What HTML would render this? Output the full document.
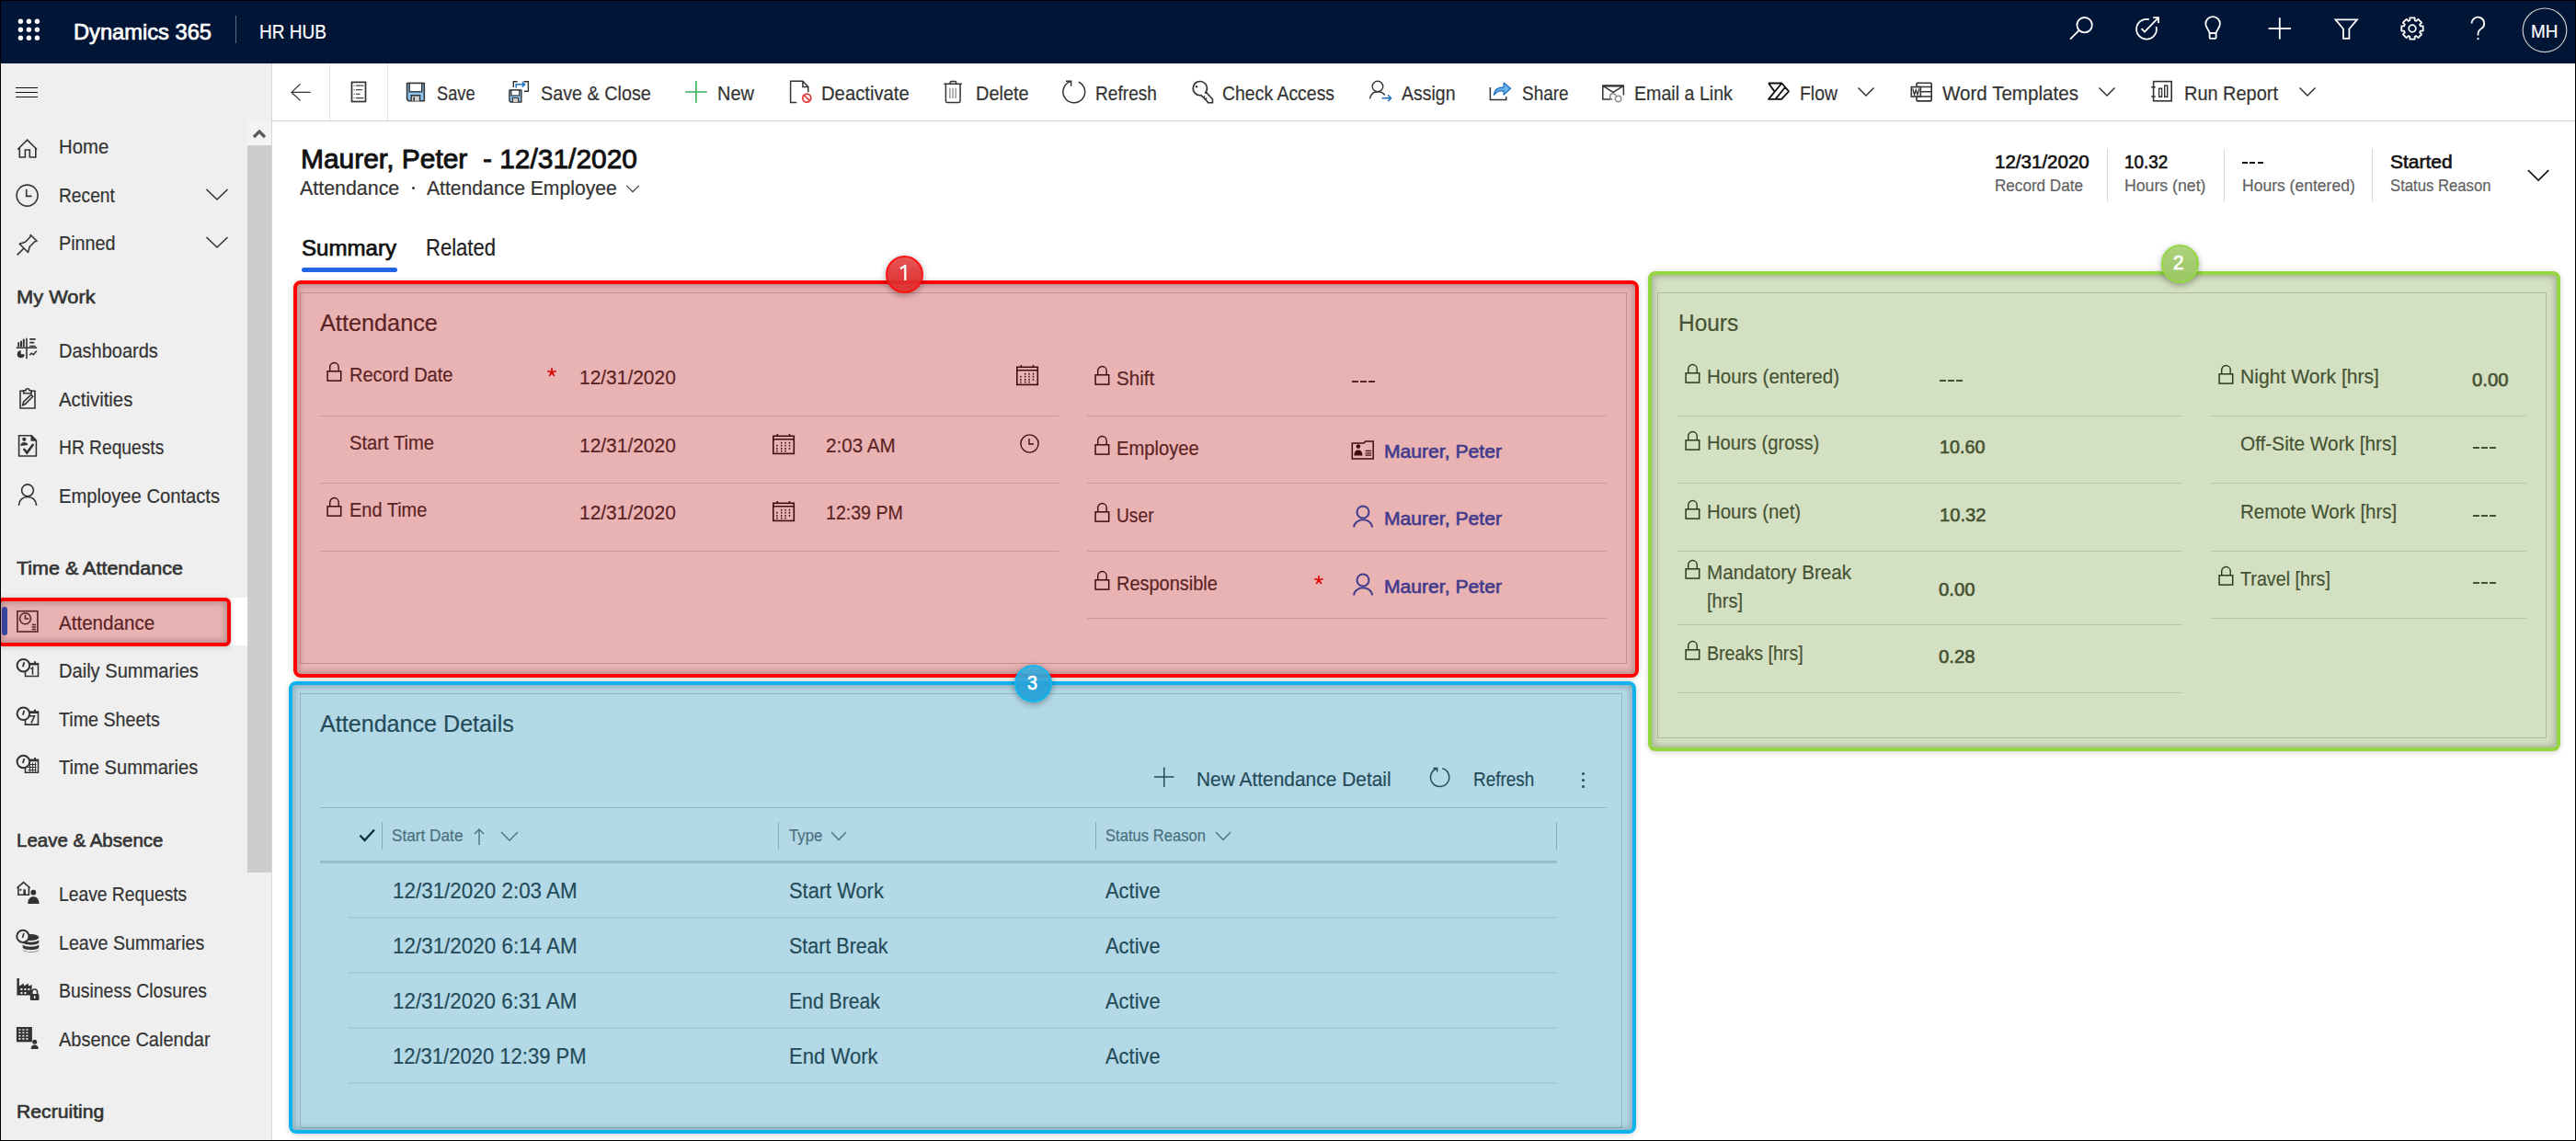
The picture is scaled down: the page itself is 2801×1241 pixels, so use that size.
<!DOCTYPE html><html><head><meta charset="utf-8"><style>
html,body{margin:0;padding:0;}
body{width:2801px;height:1241px;overflow:hidden;position:relative;background:#fff;font-family:"Liberation Sans",sans-serif;}
.t{position:absolute;line-height:0;white-space:pre;transform-origin:0 0;}
.r{position:absolute;}
.i{position:absolute;overflow:visible;}
#frame{position:absolute;left:0;top:0;width:2799px;height:1239px;border:1px solid #000;z-index:100;}
</style></head><body>
<div class="r" style="left:0px;top:0px;width:2801px;height:69px;background:#011537;"></div>
<svg class="i" style="left:0px;top:0px;" width="60" height="60" viewBox="0 0 60 60"><circle cx="22.4" cy="23.2" r="2.7" fill="#fff"/><circle cx="22.4" cy="32.3" r="2.7" fill="#fff"/><circle cx="22.4" cy="41.3" r="2.7" fill="#fff"/><circle cx="31.4" cy="23.2" r="2.7" fill="#fff"/><circle cx="31.4" cy="32.3" r="2.7" fill="#fff"/><circle cx="31.4" cy="41.3" r="2.7" fill="#fff"/><circle cx="40.4" cy="23.2" r="2.7" fill="#fff"/><circle cx="40.4" cy="32.3" r="2.7" fill="#fff"/><circle cx="40.4" cy="41.3" r="2.7" fill="#fff"/></svg>
<div class="t " style="left:80.20px;top:35.00px;font-size:23.96px;color:#fff;-webkit-text-stroke:0.72px #fff;transform:scaleX(0.9884);">Dynamics 365</div>
<div class="r" style="left:256px;top:17px;width:1px;height:30px;background:#5c6b85;"></div>
<div class="t " style="left:281.50px;top:35.00px;font-size:22.09px;color:#fff;-webkit-text-stroke:0.2px #fff;transform:scaleX(0.8622);">HR HUB</div>
<svg class="i" style="left:2245px;top:12px;" width="40" height="40" viewBox="0 0 40 40"><circle cx="21.6" cy="15.2" r="8.2" stroke="#fff" fill="none" stroke-width="1.8"/><line x1="6" y1="30.6" x2="15.8" y2="20.9" stroke="#fff" fill="none" stroke-width="1.8"/></svg>
<svg class="i" style="left:0;top:0" width="2801" height="69" viewBox="0 0 2801 69"><path d="M2344.5 28.9 A10.9 10.9 0 1 1 2336.8 21.2" stroke="#fff" fill="none" stroke-width="1.8"/><path d="M2328.6 31.2 L2331.9 34.6 L2346.5 19.7 M2341.2 19.2 H2347 V25" stroke="#fff" fill="none" stroke-width="1.8"/><path d="M2402.6 36.2 C2402.3 32.6 2398.3 30.2 2398.3 26 A7.8 7.8 0 0 1 2413.9 26 C2413.9 30.2 2409.9 32.6 2409.6 36.2 Z" stroke="#fff" fill="none" stroke-width="1.8"/><rect x="2402.6" y="36.2" width="7" height="5.6" rx="0.8" stroke="#fff" fill="none" stroke-width="1.8"/><path d="M2687.6 25.4 A6.8 6.8 0 1 1 2698.6 30.8 C2695.8 32.4 2694.5 34 2694.5 37 V38.6" stroke="#fff" fill="none" stroke-width="1.8"/><circle cx="2694.5" cy="42.2" r="1.1" fill="#fff"/></svg>
<svg class="i" style="left:2460px;top:12px;" width="40" height="40" viewBox="0 0 40 40"><line x1="6.6" y1="19" x2="31" y2="19" stroke="#fff" fill="none" stroke-width="1.8"/><line x1="18.8" y1="7.2" x2="18.8" y2="30.6" stroke="#fff" fill="none" stroke-width="1.8"/></svg>
<svg class="i" style="left:2530px;top:12px;" width="40" height="40" viewBox="0 0 40 40"><path d="M9.5 9.3 H33 L24.4 19.5 V29.9 H18 V19.5 Z" stroke="#fff" fill="none" stroke-width="1.8"/></svg>
<svg class="i" style="left:2600px;top:12px;" width="46" height="40" viewBox="0 0 46 40"><path d="M34.71 16.38 L34.71 21.62 L31.79 21.72 L31.14 23.29 L33.13 25.43 L29.43 29.13 L27.29 27.14 L25.72 27.79 L25.62 30.71 L20.38 30.71 L20.28 27.79 L18.71 27.14 L16.57 29.13 L12.87 25.43 L14.86 23.29 L14.21 21.72 L11.29 21.62 L11.29 16.38 L14.21 16.28 L14.86 14.71 L12.87 12.57 L16.57 8.87 L18.71 10.86 L20.28 10.21 L20.38 7.29 L25.62 7.29 L25.72 10.21 L27.29 10.86 L29.43 8.87 L33.13 12.57 L31.14 14.71 L31.79 16.28 Z" stroke="#fff" fill="none" stroke-width="1.8" stroke-linejoin="round"/><circle cx="23" cy="19" r="3.8" stroke="#fff" fill="none" stroke-width="1.8"/></svg>
<svg class="i" style="left:2740px;top:6px;" width="54" height="54" viewBox="0 0 54 54"><circle cx="27" cy="26.8" r="23.8" stroke="#c8c8c8" stroke-width="1.2" fill="none"/></svg>
<div class="t " style="left:2751.90px;top:34.00px;font-size:19.91px;color:#fff;-webkit-text-stroke:0.2px #fff;transform:scaleX(0.9495);">MH</div>
<div class="r" style="left:0px;top:69px;width:296px;height:1172px;background:#efefef;"></div>
<div class="r" style="left:295px;top:69px;width:1px;height:1172px;background:#d8d8d8;"></div>
<div class="r" style="left:269px;top:158px;width:26px;height:791px;background:#cdcdcd;"></div>
<div class="r" style="left:269px;top:132px;width:26px;height:26px;background:#f3f3f3;"></div>
<svg class="i" style="left:270px;top:132px;" width="26" height="26" viewBox="0 0 26 26"><path d="M6 17 L12 11 L18 17" stroke="#5a5a5a" stroke-width="3.2" fill="none"/></svg>
<svg class="i" style="left:14px;top:90px;" width="30" height="20" viewBox="0 0 30 20"><path d="M3 5.5 H27 M3 10.5 H27 M3 15.5 H27" stroke="#111" stroke-width="1.1"/></svg>
<div class="r" style="left:1px;top:650px;width:268px;height:52px;background:#ffffff;"></div>
<div class="t " style="left:63.50px;top:160.00px;font-size:21.80px;color:#333;-webkit-text-stroke:0.2px #333;transform:scaleX(0.9337);">Home</div>
<div class="t " style="left:63.50px;top:213.00px;font-size:21.80px;color:#333;-webkit-text-stroke:0.2px #333;transform:scaleX(0.8804);">Recent</div>
<div class="t " style="left:63.50px;top:265.00px;font-size:21.80px;color:#333;-webkit-text-stroke:0.2px #333;transform:scaleX(0.9070);">Pinned</div>
<div class="t " style="left:63.50px;top:382.00px;font-size:21.80px;color:#333;-webkit-text-stroke:0.2px #333;transform:scaleX(0.9178);">Dashboards</div>
<div class="t " style="left:63.50px;top:435.00px;font-size:21.80px;color:#333;-webkit-text-stroke:0.2px #333;transform:scaleX(0.9348);">Activities</div>
<div class="t " style="left:63.50px;top:487.00px;font-size:21.80px;color:#333;-webkit-text-stroke:0.2px #333;transform:scaleX(0.8815);">HR Requests</div>
<div class="t " style="left:63.50px;top:540.00px;font-size:21.80px;color:#333;-webkit-text-stroke:0.2px #333;transform:scaleX(0.9263);">Employee Contacts</div>
<div class="t " style="left:63.50px;top:678.00px;font-size:21.80px;color:#333;-webkit-text-stroke:0.2px #333;transform:scaleX(0.9445);">Attendance</div>
<div class="t " style="left:63.50px;top:730.00px;font-size:21.80px;color:#333;-webkit-text-stroke:0.2px #333;transform:scaleX(0.9219);">Daily Summaries</div>
<div class="t " style="left:63.50px;top:783.00px;font-size:21.80px;color:#333;-webkit-text-stroke:0.2px #333;transform:scaleX(0.9029);">Time Sheets</div>
<div class="t " style="left:63.50px;top:835.00px;font-size:21.80px;color:#333;-webkit-text-stroke:0.2px #333;transform:scaleX(0.9228);">Time Summaries</div>
<div class="t " style="left:63.50px;top:973.00px;font-size:21.80px;color:#333;-webkit-text-stroke:0.2px #333;transform:scaleX(0.8840);">Leave Requests</div>
<div class="t " style="left:63.50px;top:1026.00px;font-size:21.80px;color:#333;-webkit-text-stroke:0.2px #333;transform:scaleX(0.9008);">Leave Summaries</div>
<div class="t " style="left:63.50px;top:1078.00px;font-size:21.80px;color:#333;-webkit-text-stroke:0.2px #333;transform:scaleX(0.8916);">Business Closures</div>
<div class="t " style="left:63.50px;top:1131.00px;font-size:21.80px;color:#333;-webkit-text-stroke:0.2px #333;transform:scaleX(0.9176);">Absence Calendar</div>
<svg class="i" style="left:0;top:0;z-index:2" width="296" height="1241" viewBox="0 0 296 1241"><path d="M19.2 162.5 L29.6 152.2 L40.1 162.5 M21.3 160.5 V171 H27.4 V163 H32.3 V171 H38.8 V160.5" stroke="#333" fill="none" stroke-width="1.6" stroke-linejoin="miter"/><circle cx="29.6" cy="212.6" r="11.5" stroke="#333" fill="none" stroke-width="1.6"/><path d="M28.7 205.8 V213.4 H34.5" stroke="#333" fill="none" stroke-width="1.6"/><path d="M18.6 277.4 L25.5 270.5 M21.2 265.3 L27.5 263.2 L32.8 257.8 L33.3 255.5 L40.1 262.3 L37.8 262.8 L32.2 268.5 L30.5 274.5 Z" stroke="#333" fill="none" stroke-width="1.6" stroke-linejoin="round"/><g transform="translate(17.7 367.7)"><path d="M0 10.5 H22.5 M11.3 0 V22.5" stroke="#333" fill="none" stroke-width="1.6"/><path d="M2.5 4.5 V9.5 M5.3 3 V9.5 M8.1 1 V9.5" stroke="#333" stroke-width="2"/><path d="M14.5 1.2 H21 M14.5 5 H19.5 M14.5 8.8 H21" stroke="#333" stroke-width="1.7"/><path d="M5 13.5 A4 4 0 1 0 9 17.5 H5 Z" fill="#333"/><path d="M14.5 18.5 L16.5 16.5 L18.5 18 L22 14" stroke="#333" fill="none" stroke-width="1.6"/></g><g transform="translate(21.2 421.8)"><path d="M4.5 3.5 H0.8 V22.2 H16.8 V3.5 H13" stroke="#333" fill="none" stroke-width="1.6"/><path d="M4.5 6 V3 H6.8 A2 2 0 0 1 10.8 3 H13 V6 Z" stroke="#333" fill="none" stroke-width="1.6"/><path d="M3.5 19 L4.5 15 L12.5 7.5 L14.5 9.5 L6.5 17.5 Z" stroke="#333" fill="none" stroke-width="1.6"/></g><g transform="translate(19.8 473)"><path d="M0.8 0.8 H14.5 L19.6 6 V23 H0.8 Z M14.5 0.8 V6 H19.6" stroke="#333" fill="none" stroke-width="1.6"/><path d="M14.5 0.8 L19.6 6 H14.5 Z" fill="#333"/><circle cx="6.5" cy="4.8" r="2.1" fill="#333"/><path d="M2.5 12 C2.5 9 4.5 8 6.5 8 C8.5 8 10.5 9 10.5 11 Z" fill="#333"/><path d="M6 15 L9.5 19.5 L16.5 10" stroke="#333" stroke-width="2.6" fill="none"/></g><circle cx="30" cy="533.3" r="6.4" stroke="#333" fill="none" stroke-width="1.6"/><path d="M20.3 549.8 C21 543.5 25 540.5 30 540.5 C35 540.5 39 543.5 39.7 549.8" stroke="#333" fill="none" stroke-width="1.6"/><g transform="translate(18.2 664)"><rect x="0.7" y="0.7" width="22" height="22.3" stroke="#333" fill="none" stroke-width="1.6"/><circle cx="9.3" cy="8.8" r="6" stroke="#333" fill="none" stroke-width="1.6"/><path d="M9.3 4.8 V9 H13" stroke="#333" fill="none" stroke-width="1.6"/><path d="M16.5 15.5 H20.8 M16.5 18 H20.8 M16.5 20.5 H20.8" stroke="#333" stroke-width="1.3"/></g><g transform="translate(17.5 716.7)"><path d="M10 5 H24 V18.8 H10 Z" stroke="#333" fill="none" stroke-width="1.6"/><path d="M13.5 2.5 V6 M20.5 2.5 V6" stroke="#333" stroke-width="2"/><path d="M10 5.5 H24" stroke="#333" stroke-width="2.5"/><path d="M16 11 L18 9.5 V17" stroke="#333" stroke-width="1.6" fill="none"/><circle cx="7.9" cy="7" r="6.8" fill="#efefef" stroke="#333" stroke-width="2"/><path d="M8.8 3.5 L7.4 8.5" stroke="#333" stroke-width="1.8"/></g><g transform="translate(17.5 769.3)"><path d="M10 5 H24 V18.8 H10 Z" stroke="#333" fill="none" stroke-width="1.6"/><path d="M13.5 2.5 V6 M20.5 2.5 V6" stroke="#333" stroke-width="2"/><path d="M10 5.5 H24" stroke="#333" stroke-width="2.5"/><path d="M14.5 9.5 H20 L16.5 17" stroke="#333" stroke-width="1.6" fill="none"/><circle cx="7.9" cy="7" r="6.8" fill="#efefef" stroke="#333" stroke-width="2"/><path d="M8.8 3.5 L7.4 8.5" stroke="#333" stroke-width="1.8"/></g><g transform="translate(17.5 821.5)"><path d="M10 5 H24 V18.8 H10 Z" stroke="#333" fill="none" stroke-width="1.6"/><path d="M13.5 2.5 V6 M20.5 2.5 V6" stroke="#333" stroke-width="2"/><path d="M10 5.5 H24" stroke="#333" stroke-width="2.5"/><path d="M13 10 H22 M13 13 H22 M13 16 H22 M15 8 V18 M18 8 V18 M21 8 V18" stroke="#333" stroke-width="1.1"/><circle cx="7.9" cy="7" r="6.8" fill="#efefef" stroke="#333" stroke-width="2"/><path d="M8.8 3.5 L7.4 8.5" stroke="#333" stroke-width="1.8"/></g><g transform="translate(17.9 958.8)"><path d="M0.5 7 L7.7 0.8 L14.8 7 M2 6 V14.5 H13.5 V6" stroke="#333" fill="none" stroke-width="1.6"/><rect x="7.5" y="8.5" width="2.5" height="6" fill="#333"/><rect x="3.5" y="8" width="2" height="2" fill="#333"/><circle cx="18.4" cy="11.9" r="2.9" fill="#333"/><path d="M12.3 24.2 C12.3 19 15 16.5 18.4 16.5 C21.8 16.5 24.6 19 24.6 24.2 Z" fill="#333"/></g><g transform="translate(17.5 1011)"><ellipse cx="16" cy="8.5" rx="8.8" ry="3.5" fill="#333"/><path d="M7.2 11 C8 14.5 24 14.5 24.8 11 V14 C24 17.5 8 17.5 7.2 14 Z M7.2 16 C8 19.5 24 19.5 24.8 16 V19.5 C24 23 8 23 7.2 19.5 Z M7.2 21.5 C8 25 24 25 24.8 21.5 V22 C24 25.5 8 25.5 7.2 22 Z" fill="#333"/><circle cx="7.4" cy="7.4" r="6.6" fill="#efefef" stroke="#333" stroke-width="2"/><path d="M8.4 4 L7 9" stroke="#333" stroke-width="1.6"/></g><g transform="translate(18.4 1064)"><path d="M0 0 H2.5 V8.5 L7.5 5.5 V8.5 L12.5 5.5 V8.5 L16.2 7 V18.5 H0 Z" fill="#333"/><path d="M4 11 H6 V13 H4 Z M8 11 H10 V13 H8 Z M12 11 H14 V13 H12 Z M4 15 H6 V17 H4 Z M8 15 H10 V17 H8 Z" fill="#efefef"/><rect x="14.4" y="17" width="9.7" height="7" rx="1" fill="#333"/><path d="M16.4 17 V14.8 A2.85 2.85 0 0 1 22.1 14.8 V17" fill="#efefef" stroke="#333" stroke-width="1.6"/><rect x="18.5" y="19" width="1.5" height="3" fill="#efefef"/></g><g transform="translate(17.9 1117)"><rect x="0" y="0" width="17" height="16.3" fill="#333"/><path d="M2.5 3 H4.5 M6.5 3 H8.5 M10.5 3 H12.5 M2.5 6.3 H4.5 M6.5 6.3 H8.5 M10.5 6.3 H12.5 M2.5 9.6 H4.5 M6.5 9.6 H8.5 M10.5 9.6 H12.5 M2.5 12.9 H4.5 M6.5 12.9 H8.5 M10.5 12.9 H12.5" stroke="#efefef" stroke-width="1.6"/><circle cx="19.8" cy="16.3" r="2.5" fill="#333"/><path d="M15.8 24 C15.8 20.5 17.5 19.5 19.8 19.5 C22.1 19.5 23.8 20.5 23.8 24 Z" fill="#333"/></g></svg>
<svg class="i" style="left:220px;top:202px;" width="32" height="20" viewBox="0 0 32 20"><path d="M4.5 4 L16 15 L27.5 4" stroke="#333" stroke-width="1.6" fill="none"/></svg>
<svg class="i" style="left:220px;top:254px;" width="32" height="20" viewBox="0 0 32 20"><path d="M4.5 4 L16 15 L27.5 4" stroke="#333" stroke-width="1.6" fill="none"/></svg>
<div class="t " style="left:17.50px;top:323.00px;font-size:20.19px;color:#333;-webkit-text-stroke:0.61px #333;transform:scaleX(1.0805);">My Work</div>
<div class="t " style="left:17.50px;top:618.00px;font-size:20.19px;color:#333;-webkit-text-stroke:0.61px #333;transform:scaleX(1.0654);">Time &amp; Attendance</div>
<div class="t " style="left:17.50px;top:914.00px;font-size:20.19px;color:#333;-webkit-text-stroke:0.61px #333;transform:scaleX(1.0145);">Leave &amp; Absence</div>
<div class="t " style="left:17.50px;top:1209.00px;font-size:20.19px;color:#333;-webkit-text-stroke:0.61px #333;transform:scaleX(1.0481);">Recruiting</div>
<div class="r" style="left:296px;top:131px;width:2505px;height:1px;background:#d6d6d6;"></div>
<div class="r" style="left:358px;top:69px;width:1px;height:62px;background:#e1e1e1;"></div>
<div class="r" style="left:421px;top:69px;width:1px;height:62px;background:#e1e1e1;"></div>
<div class="t " style="left:474.50px;top:102.00px;font-size:21.80px;color:#333;-webkit-text-stroke:0.2px #333;transform:scaleX(0.8369);">Save</div>
<div class="t " style="left:588.00px;top:102.00px;font-size:21.80px;color:#333;-webkit-text-stroke:0.2px #333;transform:scaleX(0.9075);">Save &amp; Close</div>
<div class="t " style="left:780.10px;top:102.00px;font-size:21.80px;color:#333;-webkit-text-stroke:0.2px #333;transform:scaleX(0.9162);">New</div>
<div class="t " style="left:892.50px;top:102.00px;font-size:21.80px;color:#333;-webkit-text-stroke:0.2px #333;transform:scaleX(0.9290);">Deactivate</div>
<div class="t " style="left:1060.50px;top:102.00px;font-size:21.80px;color:#333;-webkit-text-stroke:0.2px #333;transform:scaleX(0.9157);">Delete</div>
<div class="t " style="left:1190.50px;top:102.00px;font-size:21.80px;color:#333;-webkit-text-stroke:0.2px #333;transform:scaleX(0.8774);">Refresh</div>
<div class="t " style="left:1329.10px;top:102.00px;font-size:21.80px;color:#333;-webkit-text-stroke:0.2px #333;transform:scaleX(0.8918);">Check Access</div>
<div class="t " style="left:1523.50px;top:102.00px;font-size:21.80px;color:#333;-webkit-text-stroke:0.2px #333;transform:scaleX(0.8952);">Assign</div>
<div class="t " style="left:1654.50px;top:102.00px;font-size:21.80px;color:#333;-webkit-text-stroke:0.2px #333;transform:scaleX(0.8700);">Share</div>
<div class="t " style="left:1777.30px;top:102.00px;font-size:21.80px;color:#333;-webkit-text-stroke:0.2px #333;transform:scaleX(0.9005);">Email a Link</div>
<div class="t " style="left:1956.50px;top:102.00px;font-size:21.80px;color:#333;-webkit-text-stroke:0.2px #333;transform:scaleX(0.8891);">Flow</div>
<div class="t " style="left:2111.50px;top:102.00px;font-size:21.80px;color:#333;-webkit-text-stroke:0.2px #333;transform:scaleX(0.9441);">Word Templates</div>
<div class="t " style="left:2374.50px;top:102.00px;font-size:21.80px;color:#333;-webkit-text-stroke:0.2px #333;transform:scaleX(0.9146);">Run Report</div>
<svg class="i" style="left:0;top:0;z-index:2" width="2801" height="135" viewBox="0 0 2801 135"><path d="M326.6 91.4 L317 100.4 L326.6 109.4 M317 100.4 H337.7" stroke="#333" stroke-width="1.3" fill="none"/><rect x="382.5" y="89.4" width="15" height="21.1" stroke="#333" stroke-width="1.7" fill="none"/><path d="M384.6 93.2 H385.6 M387 93.2 H395.5" stroke="#444" stroke-width="1.3"/><path d="M384.6 97.7 H385.6 M387 97.7 H393.8" stroke="#444" stroke-width="1.3"/><path d="M384.6 102.3 H385.6 M387 102.3 H391.5" stroke="#444" stroke-width="1.3"/><path d="M384.6 106.7 H385.6 M387 106.7 H395.5" stroke="#444" stroke-width="1.3"/><path d="M442.6 90.5 H461.3 V109.7 H444.3 L442.6 108 Z" fill="#8ec5f0" stroke="#333" stroke-width="1.6" stroke-linejoin="round"/><rect x="445.2" y="90.5" width="13.5" height="9.3" fill="#fff" stroke="#333" stroke-width="1.4"/><path d="M447.2 109.7 V103.8 H456.6 V109.7" fill="#d0d0d0" stroke="#333" stroke-width="1.4"/><rect x="449.4" y="105.6" width="1.6" height="4" fill="#333"/><path d="M553.9 98 H566.9 V111 H555.2 L553.9 109.7 Z" fill="#8ec5f0" stroke="#333" stroke-width="1.4" stroke-linejoin="round"/><rect x="555.9" y="98" width="8.8" height="6" fill="#fff" stroke="#333" stroke-width="1.2"/><path d="M557.3 111 V106.5 H563.6 V111" fill="#d0d0d0" stroke="#333" stroke-width="1.2"/><path d="M562.7 88.8 H558.3 V95 M569.6 88.8 H574.4 V99.3 H570" stroke="#333" stroke-width="1.4" fill="none"/><path d="M561.2 95.5 V91.8 H570.2 M567.7 89 L570.6 91.8 L567.7 94.6" stroke="#1a6ec0" stroke-width="1.5" fill="none"/><path d="M745 100 H768.8 M756.9 88.1 V111.8" stroke="#3aae5c" stroke-width="1.6" fill="none"/><path d="M866.3 111.5 H859.6 V88.3 H872.9 L878.8 94.5 V100.3 M872.9 88.3 V94.5 H878.8" stroke="#333" stroke-width="1.5" fill="none"/><circle cx="877.3" cy="106.6" r="4.5" stroke="#e83838" stroke-width="1.7" fill="none"/><path d="M874.2 103.5 L880.4 109.7" stroke="#e83838" stroke-width="1.7"/><path d="M1026.3 91.3 H1045.9 M1033.3 91.3 V89.3 Q1033.3 88.4 1034.2 88.4 H1038.7 Q1039.6 88.4 1039.6 89.3 V91.3 M1028.4 91.3 V110 Q1028.4 111.4 1029.8 111.4 H1042.7 Q1044.1 111.4 1044.1 110 V91.3" stroke="#333" stroke-width="1.5" fill="none"/><path d="M1032.9 95.7 V106.9 M1036.1 95.7 V106.9 M1039.2 95.7 V106.9" stroke="#777" stroke-width="1.1"/><path d="M1172.8 89.1 A11.9 11.9 0 1 1 1164.7 88.4" stroke="#333" stroke-width="1.5" fill="none"/><path d="M1159 88.3 H1164.6 V93.8" stroke="#333" stroke-width="1.5" fill="none"/><path d="M1310.2 101.5 A7.6 7.6 0 1 0 1306 103.6 L1313.2 110.8 V111.7 H1318.5 V108 L1311.5 100.2" stroke="#333" stroke-width="1.6" fill="none" stroke-linejoin="round"/><path d="M1308.5 105.8 L1310.2 104.5 M1310.5 107.9 L1312.2 106.6" stroke="#333" stroke-width="1.4"/><circle cx="1301" cy="94.2" r="1.2" fill="#333"/><circle cx="1498" cy="94" r="5.8" stroke="#333" stroke-width="1.4" fill="none"/><path d="M1489.6 107.5 C1490.5 102.5 1494 99.8 1498 99.8 C1501.5 99.8 1504.3 101.3 1505.9 103.5" stroke="#333" stroke-width="1.4" fill="none"/><path d="M1502.6 106.8 H1512.6 M1509.2 103.4 L1512.6 106.8 L1509.2 110.2" stroke="#1a6ec0" stroke-width="1.5" fill="none"/><path d="M1620.4 95 V108.5 H1637.8 V105.1" stroke="#333" stroke-width="1.5" fill="none"/><path d="M1624.3 103.3 C1624.8 97.5 1628.8 94.8 1635.1 94.8 V90 L1642.6 96.3 L1635.1 103 V98.6 C1630.5 98.5 1627 99.8 1624.3 103.3 Z" fill="#6aaeea" stroke="#1a6ec0" stroke-width="1.2" stroke-linejoin="round"/><path d="M1751 107.9 H1742.8 V93.3 H1765.4 V103.4 M1742.8 93.3 L1754 100.4 L1765.4 93.3" stroke="#333" stroke-width="1.5" fill="none"/><path d="M1742.8 93.5 H1765.4" stroke="#333" stroke-width="2.2"/><path d="M1757 104 A3.3 3.3 0 1 0 1753.5 108.3 M1756.5 106.2 A3.3 3.3 0 1 1 1759.8 110.8 A3.3 3.3 0 0 1 1756.5 106.2 Z" stroke="#8a8a8a" stroke-width="1.5" fill="none"/><path d="M1923 90.5 H1937.4 L1945 99.3 L1937.1 107.9 H1923 L1937.4 90.5 M1923 90.5 L1929.3 99.1 M1930.5 107.9 L1941 95" stroke="#111" stroke-width="1.8" fill="none" stroke-linejoin="round"/><rect x="2084" y="90.2" width="16.2" height="19.7" rx="1" stroke="#333" stroke-width="1.6" fill="none"/><path d="M2084 94.6 H2100.2 M2088.5 99.8 H2100.2 M2084 105 H2100.2" stroke="#333" stroke-width="1.5"/><rect x="2078.3" y="94.6" width="10" height="10.4" fill="#fff" stroke="#333" stroke-width="1.6"/><path d="M2079.8 96.5 L2081.6 103 L2083.3 97.8 L2085 103 L2086.8 96.5" stroke="#333" stroke-width="1.3" fill="none"/><rect x="2341.6" y="88.6" width="19.6" height="21.2" stroke="#333" stroke-width="1.6" fill="none"/><path d="M2339.1 94.7 H2343.7 M2339.1 105 H2343.7" stroke="#333" stroke-width="1.4"/><rect x="2347.6" y="96.2" width="3" height="9.1" stroke="#333" stroke-width="1.4" fill="none"/><rect x="2353.7" y="93.1" width="3" height="12.2" stroke="#333" stroke-width="1.4" fill="none"/><path d="M2020.5 95.5 L2029 104 L2037.5 95.5" stroke="#333" stroke-width="1.5" fill="none"/><path d="M2282.5 95.5 L2291 104 L2299.5 95.5" stroke="#333" stroke-width="1.5" fill="none"/><path d="M2500.5 95.5 L2509 104 L2517.5 95.5" stroke="#333" stroke-width="1.5" fill="none"/></svg>
<div class="t " style="left:326.50px;top:173.00px;font-size:29.25px;color:#111;-webkit-text-stroke:0.88px #111;transform:scaleX(1.0232);">Maurer, Peter  - 12/31/2020</div>
<div class="t " style="left:325.70px;top:205.00px;font-size:21.80px;color:#333;-webkit-text-stroke:0.2px #333;transform:scaleX(0.9817);">Attendance</div>
<div class="r" style="left:448px;top:203px;width:3px;height:3px;background:#333;border-radius:2px;"></div>
<div class="t " style="left:463.70px;top:205.00px;font-size:21.80px;color:#333;-webkit-text-stroke:0.2px #333;transform:scaleX(0.9694);">Attendance Employee</div>
<svg class="i" style="left:680px;top:199px;" width="18" height="14" viewBox="0 0 18 14"><path d="M1.3 2.8 L8 9.6 L14.7 2.8" stroke="#333" stroke-width="1.1" fill="none"/></svg>
<div class="t " style="left:327.50px;top:270.00px;font-size:24.37px;color:#111;-webkit-text-stroke:0.73px #111;transform:scaleX(0.9879);">Summary</div>
<div class="t " style="left:462.50px;top:269.00px;font-size:25.44px;color:#222;-webkit-text-stroke:0.2px #222;transform:scaleX(0.8667);">Related</div>
<div class="r" style="left:328px;top:291px;width:104px;height:5px;background:#2266e3;border-radius:3px;"></div>
<div class="t " style="left:2169.20px;top:176.00px;font-size:20.47px;color:#111;-webkit-text-stroke:0.61px #111;transform:scaleX(1.0042);">12/31/2020</div>
<div class="t " style="left:2169.20px;top:202.00px;font-size:19.19px;color:#616161;-webkit-text-stroke:0.2px #616161;transform:scaleX(0.8911);">Record Date</div>
<div class="r" style="left:2291px;top:162px;width:1px;height:57px;background:#d6d6d6;"></div>
<div class="t " style="left:2310.00px;top:176.00px;font-size:20.47px;color:#111;-webkit-text-stroke:0.61px #111;transform:scaleX(0.9212);">10.32</div>
<div class="t " style="left:2310.00px;top:202.00px;font-size:19.19px;color:#616161;-webkit-text-stroke:0.2px #616161;transform:scaleX(0.9221);">Hours (net)</div>
<div class="r" style="left:2418px;top:162px;width:1px;height:57px;background:#d6d6d6;"></div>
<div class="r" style="left:2438.2px;top:176px;width:5.800000000000182px;height:2px;background:#111;"></div>
<div class="r" style="left:2446.2px;top:176px;width:5.900000000000091px;height:2px;background:#111;"></div>
<div class="r" style="left:2454.9px;top:176px;width:6.0px;height:2px;background:#111;"></div>
<div class="t " style="left:2437.50px;top:202.00px;font-size:19.19px;color:#616161;-webkit-text-stroke:0.2px #616161;transform:scaleX(0.9133);">Hours (entered)</div>
<div class="r" style="left:2579px;top:162px;width:1px;height:57px;background:#d6d6d6;"></div>
<div class="t " style="left:2598.50px;top:176.00px;font-size:20.47px;color:#111;-webkit-text-stroke:0.61px #111;transform:scaleX(1.0269);">Started</div>
<div class="t " style="left:2598.50px;top:202.00px;font-size:19.19px;color:#616161;-webkit-text-stroke:0.2px #616161;transform:scaleX(0.8700);">Status Reason</div>
<svg class="i" style="left:2745px;top:181px;" width="30" height="20" viewBox="0 0 30 20"><path d="M3.9 4.1 L15.1 15.1 L26.3 4.1" stroke="#111" stroke-width="1.6" fill="none"/></svg>
<div class="r" style="left:326px;top:318px;width:1443px;height:404px;background:#fff;box-sizing:border-box;border:1px solid #cdcdcd;"></div>
<div class="r" style="left:1802px;top:318px;width:967px;height:485px;background:#fff;box-sizing:border-box;border:1px solid #cdcdcd;"></div>
<div class="r" style="left:326px;top:754px;width:1438px;height:473px;background:#fff;box-sizing:border-box;border:1px solid #cdcdcd;"></div>
<div class="t " style="left:348.20px;top:351.00px;font-size:25.87px;color:#333;-webkit-text-stroke:0.2px #333;transform:scaleX(0.9778);">Attendance</div>
<div class="r" style="left:348px;top:452px;width:803px;height:1px;background:#d9d9d9;"></div>
<div class="r" style="left:348px;top:525px;width:803px;height:1px;background:#d9d9d9;"></div>
<div class="r" style="left:348px;top:599px;width:803px;height:1px;background:#d9d9d9;"></div>
<div class="r" style="left:1182px;top:452px;width:565px;height:1px;background:#d9d9d9;"></div>
<div class="r" style="left:1182px;top:525px;width:565px;height:1px;background:#d9d9d9;"></div>
<div class="r" style="left:1182px;top:599px;width:565px;height:1px;background:#d9d9d9;"></div>
<div class="r" style="left:1182px;top:672px;width:565px;height:1px;background:#d9d9d9;"></div>
<svg class="i" style="left:354px;top:394px;" width="18" height="22" viewBox="0 0 18 22"><path d="M4.7 9.8 V5.25 A4.75 4.75 0 0 1 14.2 5.25 V9.8" stroke="#111" stroke-width="1.4" fill="none"/><rect x="2.1" y="9.8" width="14.6" height="10.3" stroke="#111" stroke-width="1.5" fill="none"/></svg>
<div class="t " style="left:379.80px;top:408.00px;font-size:22.38px;color:#333;-webkit-text-stroke:0.2px #333;transform:scaleX(0.8951);">Record Date</div>
<div class="t " style="left:629.80px;top:410.00px;font-size:22.97px;color:#333;-webkit-text-stroke:0.2px #333;transform:scaleX(0.9118);">12/31/2020</div>
<svg class="i" style="left:1104.6px;top:397.2px;" width="26" height="24" viewBox="0 0 26 24"><rect x="0.8" y="2.3" width="22.5" height="19.1" stroke="#111" stroke-width="1.6" fill="none"/><path d="M0.8 5.8 H23.3 M5.3 0 V3 M18.5 0 V3" stroke="#111" stroke-width="1.5" fill="none"/><rect x="9.0" y="8.8" width="1.4" height="1.8" fill="#111"/><rect x="13.3" y="8.8" width="1.4" height="1.8" fill="#111"/><rect x="17.8" y="8.8" width="1.4" height="1.8" fill="#111"/><rect x="4.2" y="11.8" width="1.4" height="1.8" fill="#111"/><rect x="9.0" y="11.8" width="1.4" height="1.8" fill="#111"/><rect x="13.3" y="11.8" width="1.4" height="1.8" fill="#111"/><rect x="17.8" y="11.8" width="1.4" height="1.8" fill="#111"/><rect x="4.2" y="15.0" width="1.4" height="1.8" fill="#111"/><rect x="9.0" y="15.0" width="1.4" height="1.8" fill="#111"/><rect x="13.3" y="15.0" width="1.4" height="1.8" fill="#111"/><rect x="17.8" y="15.0" width="1.4" height="1.8" fill="#111"/><rect x="4.2" y="17.7" width="1.4" height="1.8" fill="#111"/><rect x="9.0" y="17.7" width="1.4" height="1.8" fill="#111"/><rect x="13.3" y="17.7" width="1.4" height="1.8" fill="#111"/></svg>
<div class="t " style="left:379.90px;top:482.00px;font-size:22.38px;color:#333;-webkit-text-stroke:0.2px #333;transform:scaleX(0.9028);">Start Time</div>
<div class="t " style="left:629.80px;top:484.00px;font-size:22.97px;color:#333;-webkit-text-stroke:0.2px #333;transform:scaleX(0.9118);">12/31/2020</div>
<svg class="i" style="left:839.5px;top:471.5px;" width="26" height="24" viewBox="0 0 26 24"><rect x="0.8" y="2.3" width="22.5" height="19.1" stroke="#111" stroke-width="1.6" fill="none"/><path d="M0.8 5.8 H23.3 M5.3 0 V3 M18.5 0 V3" stroke="#111" stroke-width="1.5" fill="none"/><rect x="9.0" y="8.8" width="1.4" height="1.8" fill="#111"/><rect x="13.3" y="8.8" width="1.4" height="1.8" fill="#111"/><rect x="17.8" y="8.8" width="1.4" height="1.8" fill="#111"/><rect x="4.2" y="11.8" width="1.4" height="1.8" fill="#111"/><rect x="9.0" y="11.8" width="1.4" height="1.8" fill="#111"/><rect x="13.3" y="11.8" width="1.4" height="1.8" fill="#111"/><rect x="17.8" y="11.8" width="1.4" height="1.8" fill="#111"/><rect x="4.2" y="15.0" width="1.4" height="1.8" fill="#111"/><rect x="9.0" y="15.0" width="1.4" height="1.8" fill="#111"/><rect x="13.3" y="15.0" width="1.4" height="1.8" fill="#111"/><rect x="17.8" y="15.0" width="1.4" height="1.8" fill="#111"/><rect x="4.2" y="17.7" width="1.4" height="1.8" fill="#111"/><rect x="9.0" y="17.7" width="1.4" height="1.8" fill="#111"/><rect x="13.3" y="17.7" width="1.4" height="1.8" fill="#111"/></svg>
<div class="t " style="left:897.70px;top:484.00px;font-size:22.97px;color:#333;-webkit-text-stroke:0.2px #333;transform:scaleX(0.8982);">2:03 AM</div>
<svg class="i" style="left:1108.5px;top:472px;" width="24" height="24" viewBox="0 0 24 24"><circle cx="10.5" cy="10.5" r="9.6" stroke="#111" stroke-width="1.4" fill="none"/><path d="M10 5 V11 H15" stroke="#111" stroke-width="1.4" fill="none"/></svg>
<svg class="i" style="left:354px;top:541px;" width="18" height="22" viewBox="0 0 18 22"><path d="M4.7 9.8 V5.25 A4.75 4.75 0 0 1 14.2 5.25 V9.8" stroke="#111" stroke-width="1.4" fill="none"/><rect x="2.1" y="9.8" width="14.6" height="10.3" stroke="#111" stroke-width="1.5" fill="none"/></svg>
<div class="t " style="left:379.90px;top:555.00px;font-size:22.38px;color:#333;-webkit-text-stroke:0.2px #333;transform:scaleX(0.8924);">End Time</div>
<div class="t " style="left:629.80px;top:557.00px;font-size:22.97px;color:#333;-webkit-text-stroke:0.2px #333;transform:scaleX(0.9118);">12/31/2020</div>
<svg class="i" style="left:839.5px;top:545px;" width="26" height="24" viewBox="0 0 26 24"><rect x="0.8" y="2.3" width="22.5" height="19.1" stroke="#111" stroke-width="1.6" fill="none"/><path d="M0.8 5.8 H23.3 M5.3 0 V3 M18.5 0 V3" stroke="#111" stroke-width="1.5" fill="none"/><rect x="9.0" y="8.8" width="1.4" height="1.8" fill="#111"/><rect x="13.3" y="8.8" width="1.4" height="1.8" fill="#111"/><rect x="17.8" y="8.8" width="1.4" height="1.8" fill="#111"/><rect x="4.2" y="11.8" width="1.4" height="1.8" fill="#111"/><rect x="9.0" y="11.8" width="1.4" height="1.8" fill="#111"/><rect x="13.3" y="11.8" width="1.4" height="1.8" fill="#111"/><rect x="17.8" y="11.8" width="1.4" height="1.8" fill="#111"/><rect x="4.2" y="15.0" width="1.4" height="1.8" fill="#111"/><rect x="9.0" y="15.0" width="1.4" height="1.8" fill="#111"/><rect x="13.3" y="15.0" width="1.4" height="1.8" fill="#111"/><rect x="17.8" y="15.0" width="1.4" height="1.8" fill="#111"/><rect x="4.2" y="17.7" width="1.4" height="1.8" fill="#111"/><rect x="9.0" y="17.7" width="1.4" height="1.8" fill="#111"/><rect x="13.3" y="17.7" width="1.4" height="1.8" fill="#111"/></svg>
<div class="t " style="left:897.70px;top:557.00px;font-size:22.97px;color:#333;-webkit-text-stroke:0.2px #333;transform:scaleX(0.8526);">12:39 PM</div>
<svg class="i" style="left:1188.5px;top:398px;" width="18" height="22" viewBox="0 0 18 22"><path d="M4.7 9.8 V5.25 A4.75 4.75 0 0 1 14.2 5.25 V9.8" stroke="#111" stroke-width="1.4" fill="none"/><rect x="2.1" y="9.8" width="14.6" height="10.3" stroke="#111" stroke-width="1.5" fill="none"/></svg>
<div class="t " style="left:1213.50px;top:412.00px;font-size:22.38px;color:#333;-webkit-text-stroke:0.2px #333;transform:scaleX(0.9203);">Shift</div>
<div class="r" style="left:1470px;top:414.3px;width:7px;height:1.5px;background:#333;"></div>
<div class="r" style="left:1479px;top:414.3px;width:6.7999999999999545px;height:1.5px;background:#333;"></div>
<div class="r" style="left:1488px;top:414.3px;width:6.900000000000091px;height:1.5px;background:#333;"></div>
<svg class="i" style="left:1188.5px;top:474px;" width="18" height="22" viewBox="0 0 18 22"><path d="M4.7 9.8 V5.25 A4.75 4.75 0 0 1 14.2 5.25 V9.8" stroke="#111" stroke-width="1.4" fill="none"/><rect x="2.1" y="9.8" width="14.6" height="10.3" stroke="#111" stroke-width="1.5" fill="none"/></svg>
<div class="t " style="left:1213.50px;top:488.00px;font-size:22.38px;color:#333;-webkit-text-stroke:0.2px #333;transform:scaleX(0.9010);">Employee</div>
<svg class="i" style="left:1468.5px;top:478.5px;" width="26" height="22" viewBox="0 0 26 22"><path d="M1.3 2.9 H13.9 L15.8 0.9 H24.2 V20 H1.3 Z" stroke="#111" stroke-width="1.5" fill="none" stroke-linejoin="miter"/><circle cx="7.9" cy="6.6" r="2.3" fill="#111"/><path d="M3.4 16.4 C3.4 12.3 5.3 10.4 7.9 10.4 C10.5 10.4 12.5 12.3 12.5 16.4 Z" fill="#111"/><path d="M15.6 11.4 H22.2 M15.6 13.9 H22.2 M15.6 16.2 H22.2" stroke="#111" stroke-width="1.2"/></svg>
<div class="t " style="left:1504.50px;top:491.00px;font-size:20.89px;color:#0b55c9;-webkit-text-stroke:0.63px #0b55c9;transform:scaleX(1.0115);">Maurer, Peter</div>
<svg class="i" style="left:1188.5px;top:547px;" width="18" height="22" viewBox="0 0 18 22"><path d="M4.7 9.8 V5.25 A4.75 4.75 0 0 1 14.2 5.25 V9.8" stroke="#111" stroke-width="1.4" fill="none"/><rect x="2.1" y="9.8" width="14.6" height="10.3" stroke="#111" stroke-width="1.5" fill="none"/></svg>
<div class="t " style="left:1213.50px;top:561.00px;font-size:22.38px;color:#333;-webkit-text-stroke:0.2px #333;transform:scaleX(0.8586);">User</div>
<svg class="i" style="left:1469.5px;top:549px;" width="26" height="26" viewBox="0 0 26 26"><circle cx="12" cy="8" r="6.5" stroke="#0b55c9" stroke-width="2" fill="none"/><path d="M2.2 24.6 A9.9 8.3 0 0 1 22 24.6" stroke="#0b55c9" stroke-width="2" fill="none"/></svg>
<div class="t " style="left:1504.50px;top:564.00px;font-size:20.89px;color:#0b55c9;-webkit-text-stroke:0.63px #0b55c9;transform:scaleX(1.0115);">Maurer, Peter</div>
<svg class="i" style="left:1188.5px;top:621px;" width="18" height="22" viewBox="0 0 18 22"><path d="M4.7 9.8 V5.25 A4.75 4.75 0 0 1 14.2 5.25 V9.8" stroke="#111" stroke-width="1.4" fill="none"/><rect x="2.1" y="9.8" width="14.6" height="10.3" stroke="#111" stroke-width="1.5" fill="none"/></svg>
<div class="t " style="left:1213.50px;top:635.00px;font-size:22.38px;color:#333;-webkit-text-stroke:0.2px #333;transform:scaleX(0.8923);">Responsible</div>
<svg class="i" style="left:1469.5px;top:623px;" width="26" height="26" viewBox="0 0 26 26"><circle cx="12" cy="8" r="6.5" stroke="#0b55c9" stroke-width="2" fill="none"/><path d="M2.2 24.6 A9.9 8.3 0 0 1 22 24.6" stroke="#0b55c9" stroke-width="2" fill="none"/></svg>
<div class="t " style="left:1504.50px;top:638.00px;font-size:20.89px;color:#0b55c9;-webkit-text-stroke:0.63px #0b55c9;transform:scaleX(1.0115);">Maurer, Peter</div>
<div class="t " style="left:1824.60px;top:351.00px;font-size:25.87px;color:#333;-webkit-text-stroke:0.2px #333;transform:scaleX(0.9447);">Hours</div>
<div class="r" style="left:1824px;top:452px;width:549px;height:1px;background:#d9d9d9;"></div>
<div class="r" style="left:1824px;top:525px;width:549px;height:1px;background:#d9d9d9;"></div>
<div class="r" style="left:1824px;top:599px;width:549px;height:1px;background:#d9d9d9;"></div>
<div class="r" style="left:1824px;top:679px;width:549px;height:1px;background:#d9d9d9;"></div>
<div class="r" style="left:1824px;top:753px;width:549px;height:1px;background:#d9d9d9;"></div>
<div class="r" style="left:2404px;top:452px;width:343px;height:1px;background:#d9d9d9;"></div>
<div class="r" style="left:2404px;top:525px;width:343px;height:1px;background:#d9d9d9;"></div>
<div class="r" style="left:2404px;top:599px;width:343px;height:1px;background:#d9d9d9;"></div>
<div class="r" style="left:2404px;top:672px;width:343px;height:1px;background:#d9d9d9;"></div>
<svg class="i" style="left:1831px;top:395.5px;" width="18" height="22" viewBox="0 0 18 22"><path d="M4.7 9.8 V5.25 A4.75 4.75 0 0 1 14.2 5.25 V9.8" stroke="#111" stroke-width="1.4" fill="none"/><rect x="2.1" y="9.8" width="14.6" height="10.3" stroke="#111" stroke-width="1.5" fill="none"/></svg>
<div class="t " style="left:1855.80px;top:410.00px;font-size:22.38px;color:#333;-webkit-text-stroke:0.2px #333;transform:scaleX(0.9193);">Hours (entered)</div>
<div class="r" style="left:2109px;top:413px;width:6.5px;height:1.6000000000000227px;background:#333;"></div>
<div class="r" style="left:2118px;top:413px;width:6.5px;height:1.6000000000000227px;background:#333;"></div>
<div class="r" style="left:2127px;top:413px;width:6.5px;height:1.6000000000000227px;background:#333;"></div>
<svg class="i" style="left:1831px;top:468.5px;" width="18" height="22" viewBox="0 0 18 22"><path d="M4.7 9.8 V5.25 A4.75 4.75 0 0 1 14.2 5.25 V9.8" stroke="#111" stroke-width="1.4" fill="none"/><rect x="2.1" y="9.8" width="14.6" height="10.3" stroke="#111" stroke-width="1.5" fill="none"/></svg>
<div class="t " style="left:1855.80px;top:482.00px;font-size:22.38px;color:#333;-webkit-text-stroke:0.2px #333;transform:scaleX(0.9027);">Hours (gross)</div>
<div class="t " style="left:2109.30px;top:486.00px;font-size:20.89px;color:#333;-webkit-text-stroke:0.63px #333;transform:scaleX(0.9449);">10.60</div>
<svg class="i" style="left:1831px;top:543.5px;" width="18" height="22" viewBox="0 0 18 22"><path d="M4.7 9.8 V5.25 A4.75 4.75 0 0 1 14.2 5.25 V9.8" stroke="#111" stroke-width="1.4" fill="none"/><rect x="2.1" y="9.8" width="14.6" height="10.3" stroke="#111" stroke-width="1.5" fill="none"/></svg>
<div class="t " style="left:1855.80px;top:557.00px;font-size:22.38px;color:#333;-webkit-text-stroke:0.2px #333;transform:scaleX(0.9127);">Hours (net)</div>
<div class="t " style="left:2108.50px;top:560.00px;font-size:20.89px;color:#333;-webkit-text-stroke:0.63px #333;transform:scaleX(0.9659);">10.32</div>
<svg class="i" style="left:1831px;top:609px;" width="18" height="22" viewBox="0 0 18 22"><path d="M4.7 9.8 V5.25 A4.75 4.75 0 0 1 14.2 5.25 V9.8" stroke="#111" stroke-width="1.4" fill="none"/><rect x="2.1" y="9.8" width="14.6" height="10.3" stroke="#111" stroke-width="1.5" fill="none"/></svg>
<div class="t " style="left:1855.80px;top:623.00px;font-size:22.38px;color:#333;-webkit-text-stroke:0.2px #333;transform:scaleX(0.9214);">Mandatory Break</div>
<div class="t " style="left:1855.80px;top:654.00px;font-size:22.38px;color:#333;-webkit-text-stroke:0.2px #333;transform:scaleX(0.8981);">[hrs]</div>
<div class="t " style="left:2107.80px;top:641.00px;font-size:20.89px;color:#333;-webkit-text-stroke:0.63px #333;transform:scaleX(0.9733);">0.00</div>
<svg class="i" style="left:1831px;top:697px;" width="18" height="22" viewBox="0 0 18 22"><path d="M4.7 9.8 V5.25 A4.75 4.75 0 0 1 14.2 5.25 V9.8" stroke="#111" stroke-width="1.4" fill="none"/><rect x="2.1" y="9.8" width="14.6" height="10.3" stroke="#111" stroke-width="1.5" fill="none"/></svg>
<div class="t " style="left:1855.80px;top:711.00px;font-size:22.38px;color:#333;-webkit-text-stroke:0.2px #333;transform:scaleX(0.8768);">Breaks [hrs]</div>
<div class="t " style="left:2107.80px;top:714.00px;font-size:20.89px;color:#333;-webkit-text-stroke:0.63px #333;transform:scaleX(0.9733);">0.28</div>
<svg class="i" style="left:2410.5px;top:396.5px;" width="18" height="22" viewBox="0 0 18 22"><path d="M4.7 9.8 V5.25 A4.75 4.75 0 0 1 14.2 5.25 V9.8" stroke="#111" stroke-width="1.4" fill="none"/><rect x="2.1" y="9.8" width="14.6" height="10.3" stroke="#111" stroke-width="1.5" fill="none"/></svg>
<div class="t " style="left:2435.90px;top:410.00px;font-size:22.38px;color:#333;-webkit-text-stroke:0.2px #333;transform:scaleX(0.9435);">Night Work [hrs]</div>
<div class="t " style="left:2688.10px;top:413.00px;font-size:20.89px;color:#333;-webkit-text-stroke:0.63px #333;transform:scaleX(0.9733);">0.00</div>
<div class="t " style="left:2435.90px;top:483.00px;font-size:22.38px;color:#333;-webkit-text-stroke:0.2px #333;transform:scaleX(0.9292);">Off-Site Work [hrs]</div>
<div class="r" style="left:2689px;top:486px;width:6.5px;height:1.6000000000000227px;background:#333;"></div>
<div class="r" style="left:2698px;top:486px;width:6.5px;height:1.6000000000000227px;background:#333;"></div>
<div class="r" style="left:2707px;top:486px;width:6.5px;height:1.6000000000000227px;background:#333;"></div>
<div class="t " style="left:2435.90px;top:557.00px;font-size:22.38px;color:#333;-webkit-text-stroke:0.2px #333;transform:scaleX(0.9147);">Remote Work [hrs]</div>
<div class="r" style="left:2689px;top:560px;width:6.5px;height:1.6000000000000227px;background:#333;"></div>
<div class="r" style="left:2698px;top:560px;width:6.5px;height:1.6000000000000227px;background:#333;"></div>
<div class="r" style="left:2707px;top:560px;width:6.5px;height:1.6000000000000227px;background:#333;"></div>
<svg class="i" style="left:2410.5px;top:616px;" width="18" height="22" viewBox="0 0 18 22"><path d="M4.7 9.8 V5.25 A4.75 4.75 0 0 1 14.2 5.25 V9.8" stroke="#111" stroke-width="1.4" fill="none"/><rect x="2.1" y="9.8" width="14.6" height="10.3" stroke="#111" stroke-width="1.5" fill="none"/></svg>
<div class="t " style="left:2435.90px;top:630.00px;font-size:22.38px;color:#333;-webkit-text-stroke:0.2px #333;transform:scaleX(0.8818);">Travel [hrs]</div>
<div class="r" style="left:2689px;top:633px;width:6.5px;height:1.6000000000000227px;background:#333;"></div>
<div class="r" style="left:2698px;top:633px;width:6.5px;height:1.6000000000000227px;background:#333;"></div>
<div class="r" style="left:2707px;top:633px;width:6.5px;height:1.6000000000000227px;background:#333;"></div>
<div class="t " style="left:348.30px;top:787.00px;font-size:25.87px;color:#333;-webkit-text-stroke:0.2px #333;transform:scaleX(0.9710);">Attendance Details</div>
<svg class="i" style="left:1253px;top:833px;" width="26" height="26" viewBox="0 0 26 26"><path d="M2 12 H23.5 M12.8 1.5 V23" stroke="#333" stroke-width="1.5" fill="none"/></svg>
<div class="t " style="left:1300.80px;top:848.00px;font-size:21.80px;color:#333;-webkit-text-stroke:0.2px #333;transform:scaleX(0.9597);">New Attendance Detail</div>
<svg class="i" style="left:0;top:0" width="2801" height="1241" viewBox="0 0 2801 1241"><path d="M1568.4 835.7 A10.1 10.1 0 1 1 1562.6 835.8" stroke="#333" stroke-width="1.5" fill="none"/><path d="M1558.3 835.6 H1562.7 V839.6" stroke="#333" stroke-width="1.5" fill="none"/></svg>
<div class="t " style="left:1601.50px;top:848.00px;font-size:21.80px;color:#333;-webkit-text-stroke:0.2px #333;transform:scaleX(0.8695);">Refresh</div>
<div class="r" style="left:1720px;top:839.5px;width:3px;height:3.0px;background:#333;border-radius:50%;"></div>
<div class="r" style="left:1720px;top:846.5px;width:3px;height:3.0px;background:#333;border-radius:50%;"></div>
<div class="r" style="left:1720px;top:853.5px;width:3px;height:3.0px;background:#333;border-radius:50%;"></div>
<div class="r" style="left:348px;top:878px;width:1399px;height:1px;background:#cfcfcf;"></div>
<svg class="i" style="left:388px;top:898px;" width="24" height="22" viewBox="0 0 24 22"><path d="M3.5 10.5 L8.5 16 L19 4.5" stroke="#111" stroke-width="2.4" fill="none"/></svg>
<div class="r" style="left:415px;top:894px;width:1px;height:30px;background:#bdbdbd;"></div>
<div class="r" style="left:846px;top:894px;width:1px;height:30px;background:#bdbdbd;"></div>
<div class="r" style="left:1191px;top:894px;width:1px;height:30px;background:#bdbdbd;"></div>
<div class="r" style="left:1692px;top:894px;width:1px;height:30px;background:#bdbdbd;"></div>
<div class="t " style="left:426.20px;top:909.00px;font-size:18.90px;color:#6a6a6a;-webkit-text-stroke:0.2px #6a6a6a;transform:scaleX(0.9109);">Start Date</div>
<svg class="i" style="left:512px;top:899px;" width="18" height="24" viewBox="0 0 18 24"><path d="M9 3 V20 M4 8 L9 3 L14 8" stroke="#6a6a6a" stroke-width="1.4" fill="none"/></svg>
<svg class="i" style="left:543px;top:902px;" width="22" height="16" viewBox="0 0 22 16"><path d="M2 3 L11 12 L20 3" stroke="#6a6a6a" stroke-width="1.4" fill="none"/></svg>
<div class="t " style="left:857.70px;top:909.00px;font-size:18.90px;color:#6a6a6a;-webkit-text-stroke:0.2px #6a6a6a;transform:scaleX(0.8863);">Type</div>
<svg class="i" style="left:902px;top:902px;" width="22" height="16" viewBox="0 0 22 16"><path d="M2 3 L10 11.5 L18 3" stroke="#6a6a6a" stroke-width="1.4" fill="none"/></svg>
<div class="t " style="left:1202.40px;top:909.00px;font-size:18.90px;color:#6a6a6a;-webkit-text-stroke:0.2px #6a6a6a;transform:scaleX(0.8802);">Status Reason</div>
<svg class="i" style="left:1320px;top:902px;" width="22" height="16" viewBox="0 0 22 16"><path d="M2 3 L10 11.5 L18 3" stroke="#6a6a6a" stroke-width="1.4" fill="none"/></svg>
<div class="r" style="left:348px;top:936px;width:1345px;height:2.5px;background:#d9d9d9;"></div>
<div class="t " style="left:426.90px;top:969.00px;font-size:23.11px;color:#333;-webkit-text-stroke:0.2px #333;transform:scaleX(0.9701);">12/31/2020 2:03 AM</div>
<div class="t " style="left:857.70px;top:969.00px;font-size:23.11px;color:#333;-webkit-text-stroke:0.2px #333;transform:scaleX(0.9458);">Start Work</div>
<div class="t " style="left:1202.40px;top:969.00px;font-size:23.11px;color:#333;-webkit-text-stroke:0.2px #333;transform:scaleX(0.9473);">Active</div>
<div class="r" style="left:378px;top:996.5px;width:1315px;height:2.0px;background:#ededed;"></div>
<div class="t " style="left:426.90px;top:1029.00px;font-size:23.11px;color:#333;-webkit-text-stroke:0.2px #333;transform:scaleX(0.9701);">12/31/2020 6:14 AM</div>
<div class="t " style="left:857.70px;top:1029.00px;font-size:23.11px;color:#333;-webkit-text-stroke:0.2px #333;transform:scaleX(0.9302);">Start Break</div>
<div class="t " style="left:1202.40px;top:1029.00px;font-size:23.11px;color:#333;-webkit-text-stroke:0.2px #333;transform:scaleX(0.9473);">Active</div>
<div class="r" style="left:378px;top:1056.7px;width:1315px;height:2.0px;background:#ededed;"></div>
<div class="t " style="left:426.90px;top:1089.00px;font-size:23.11px;color:#333;-webkit-text-stroke:0.2px #333;transform:scaleX(0.9686);">12/31/2020 6:31 AM</div>
<div class="t " style="left:857.70px;top:1089.00px;font-size:23.11px;color:#333;-webkit-text-stroke:0.2px #333;transform:scaleX(0.9159);">End Break</div>
<div class="t " style="left:1202.40px;top:1089.00px;font-size:23.11px;color:#333;-webkit-text-stroke:0.2px #333;transform:scaleX(0.9473);">Active</div>
<div class="r" style="left:378px;top:1116.9px;width:1315px;height:2.0px;background:#ededed;"></div>
<div class="t " style="left:426.90px;top:1149.00px;font-size:23.11px;color:#333;-webkit-text-stroke:0.2px #333;transform:scaleX(0.9530);">12/31/2020 12:39 PM</div>
<div class="t " style="left:857.70px;top:1149.00px;font-size:23.11px;color:#333;-webkit-text-stroke:0.2px #333;transform:scaleX(0.9564);">End Work</div>
<div class="t " style="left:1202.40px;top:1149.00px;font-size:23.11px;color:#333;-webkit-text-stroke:0.2px #333;transform:scaleX(0.9473);">Active</div>
<div class="r" style="left:378px;top:1177.1px;width:1315px;height:2.0px;background:#ededed;"></div>
<div class="r" style="left:318.5px;top:304.5px;width:1463.0px;height:432.0px;background:rgba(182,0,2,0.30);box-sizing:border-box;border:4.5px solid #ff0000;border-radius:8px;box-shadow:inset 0 0 7px 2px rgba(0,0,0,0.22),0 1px 6px rgba(0,0,0,0.18);z-index:5;"></div>
<div class="r" style="left:1792px;top:294.5px;width:991.5999999999999px;height:522.1px;background:rgba(112,152,52,0.30);box-sizing:border-box;border:4.5px solid #92d640;border-radius:8px;box-shadow:inset 0 0 7px 2px rgba(0,0,0,0.22),0 1px 6px rgba(0,0,0,0.18);z-index:5;"></div>
<div class="r" style="left:313.6px;top:740.8px;width:1465.1px;height:492.20000000000005px;background:rgba(2,128,175,0.30);box-sizing:border-box;border:4.5px solid #0db2ee;border-radius:8px;box-shadow:inset 0 0 7px 2px rgba(0,0,0,0.22),0 1px 6px rgba(0,0,0,0.18);z-index:5;"></div>
<div class="r" style="left:-3px;top:650.3px;width:254px;height:52.90000000000009px;background:rgba(182,0,2,0.30);box-sizing:border-box;border:4.5px solid #ff0000;border-radius:6px;box-shadow:inset 0 0 7px 2px rgba(0,0,0,0.22),0 1px 6px rgba(0,0,0,0.18);z-index:5;"></div>
<div class="r" style="left:2.2px;top:660px;width:5.6px;height:31px;background:#34449f;border-radius:3px;z-index:7;"></div>
<svg class="i" style="left:595.1px;top:399.8px;z-index:6;" width="10" height="10" viewBox="0 0 10 10"><path d="M5 5 L5.00 0.80 M5 5 L8.99 3.70 M5 5 L7.47 8.40 M5 5 L2.53 8.40 M5 5 L1.01 3.70 " stroke="#e00000" stroke-width="1.7" stroke-linecap="round"/></svg>
<svg class="i" style="left:1429.1px;top:626px;z-index:6;" width="10" height="10" viewBox="0 0 10 10"><path d="M5 5 L5.00 0.80 M5 5 L8.99 3.70 M5 5 L7.47 8.40 M5 5 L2.53 8.40 M5 5 L1.01 3.70 " stroke="#e00000" stroke-width="1.7" stroke-linecap="round"/></svg>
<div class="r" style="left:962.65px;top:277.85px;width:41.5px;height:41.5px;background:linear-gradient(180deg, rgba(255,255,255,0.13), rgba(255,255,255,0) 55%), rgba(224,46,46,0.93);box-sizing:border-box;border:2.5px solid #ff1212;border-radius:50%;box-shadow:0 2px 7px rgba(0,0,0,0.35);z-index:8;"></div>
<div class="r" style="left:2349.85px;top:266.05px;width:41.5px;height:41.5px;background:linear-gradient(180deg, rgba(255,255,255,0.13), rgba(255,255,255,0) 55%), rgba(156,200,100,0.95);box-sizing:border-box;border:2.5px solid #92d640;border-radius:50%;box-shadow:0 2px 7px rgba(0,0,0,0.35);z-index:8;"></div>
<div class="r" style="left:1102.85px;top:722.75px;width:41.5px;height:41.5px;background:linear-gradient(180deg, rgba(255,255,255,0.13), rgba(255,255,255,0) 55%), rgba(36,160,214,0.93);box-sizing:border-box;border:2.5px solid #12b4ec;border-radius:50%;box-shadow:0 2px 7px rgba(0,0,0,0.35);z-index:8;"></div>
<svg class="i" style="left:975px;top:286px;z-index:9;" width="14" height="22" viewBox="0 0 14 22"><path d="M4 6.2 L9.3 3 V19" stroke="#fff" stroke-width="2.3" fill="none" stroke-linejoin="round"/></svg>
<div class="t " style="left:2363.20px;top:286.00px;font-size:22.28px;color:#fff;-webkit-text-stroke:0.67px #fff;transform:scaleX(0.9379);z-index:9;">2</div>
<div class="t " style="left:1116.50px;top:743.00px;font-size:22.28px;color:#fff;-webkit-text-stroke:0.67px #fff;transform:scaleX(0.8894);z-index:9;">3</div>
<div id="frame"></div>
</body></html>
